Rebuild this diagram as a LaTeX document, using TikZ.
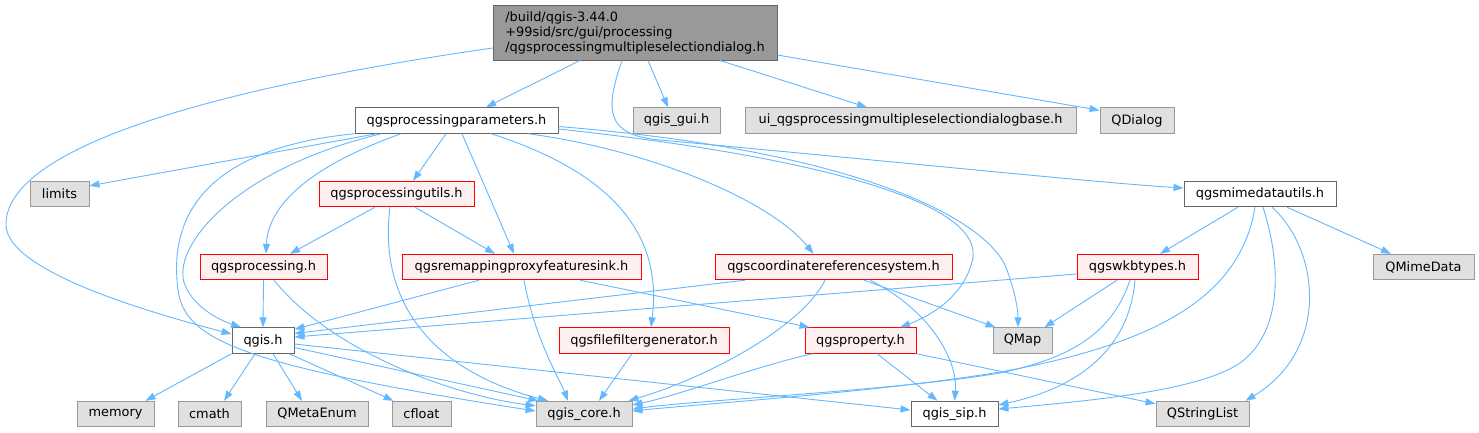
\documentclass[tikz,border=0pt]{standalone}
\usepackage{fontspec}
\setmainfont{DejaVu Sans}
\usetikzlibrary{arrows.meta}
\definecolor{edgec}{HTML}{63B8FF}
\definecolor{mainfill}{HTML}{999999}
\definecolor{maindraw}{HTML}{666666}
\definecolor{redfill}{HTML}{FFF0F0}
\definecolor{reddraw}{HTML}{FF0000}
\definecolor{grayfill}{HTML}{E0E0E0}
\definecolor{graydraw}{HTML}{999999}
\begin{document}
\begin{tikzpicture}[x=1pt,y=-1pt,
  box/.style={rectangle, inner sep=0pt, minimum height=25.5pt, font=\fontsize{12.9}{15}\selectfont, line width=0.9pt},
  mainbox/.style={box, fill=mainfill, draw=maindraw},
  wbox/.style={box, fill=white, draw=maindraw},
  rbox/.style={box, fill=redfill, draw=reddraw},
  gbox/.style={box, fill=grayfill, draw=graydraw},
  edge/.style={draw=edgec, line width=0.9pt, -{Triangle[length=10pt,width=7pt]}}
]
\useasboundingbox[fill=white] (0,0) rectangle (1479,432);

% row 0
\node[mainbox, minimum width=284pt, minimum height=55pt, align=left] (main) at (635,32.5)
  {/build/qgis-3.44.0\\+99sid/src/gui/processing\\/qgsprocessingmultipleselectiondialog.h};
% row 1
\node[wbox, minimum width=203pt] (params) at (456.5,120.5) {qgsprocessingparameters.h};
\node[gbox, minimum width=87pt] (gui) at (676.5,120.5) {qgis\_gui.h};
\node[gbox, minimum width=331pt] (ui) at (910.5,120.5) {ui\_qgsprocessingmultipleselectiondialogbase.h};
\node[gbox, minimum width=74pt] (qdialog) at (1137,120.5) {QDialog};
% row 2
\node[gbox, minimum width=59pt] (limits) at (59.5,194) {limits};
\node[rbox, minimum width=155pt] (utils) at (396.5,194) {qgsprocessingutils.h};
\node[wbox, minimum width=152pt] (mime) at (1260,194) {qgsmimedatautils.h};
% row 3
\node[rbox, minimum width=127pt] (processing) at (263.5,267) {qgsprocessing.h};
\node[rbox, minimum width=239pt] (remap) at (521.5,267) {qgsremappingproxyfeaturesink.h};
\node[rbox, minimum width=237pt] (crs) at (833.5,267) {qgscoordinatereferencesystem.h};
\node[rbox, minimum width=121pt] (wkb) at (1137.5,267) {qgswkbtypes.h};
\node[gbox, minimum width=101pt] (qmimedata) at (1423.5,267) {QMimeData};
% row 4
\node[wbox, minimum width=62pt] (qgis) at (263,340.5) {qgis.h};
\node[rbox, minimum width=170pt] (filefilter) at (644,340.5) {qgsfilefiltergenerator.h};
\node[rbox, minimum width=111pt] (property) at (860.5,340.5) {qgsproperty.h};
\node[gbox, minimum width=59pt] (qmap) at (1022.5,340.5) {QMap};
% row 5
\node[gbox, minimum width=77pt] (memory) at (115.5,414) {memory};
\node[gbox, minimum width=63pt] (cmath) at (209.5,414) {cmath};
\node[gbox, minimum width=102pt] (qmetaenum) at (317,414) {QMetaEnum};
\node[gbox, minimum width=59pt] (cfloat) at (421.5,414) {cfloat};
\node[gbox, minimum width=96pt] (core) at (584,414) {qgis\_core.h};
\node[wbox, minimum width=87pt] (sip) at (954.5,414) {qgis\_sip.h};
\node[gbox, minimum width=93pt] (qstringlist) at (1202.5,414) {QStringList};

% main edges
\draw[edge] ([yshift=-15.5pt]main.west) .. controls (200,90) and (5,150) .. (6,225)
  .. controls (7,270) and (140,310) .. ([yshift=6.5pt]qgis.west);
\draw[edge] ([xshift=-55pt]main.south) -- ([xshift=29.5pt]params.north);
\draw[edge] ([xshift=13pt]main.south) -- ([xshift=-8.5pt]gui.north);
\draw[edge] ([xshift=85pt]main.south) -- ([xshift=-43.5pt]ui.north);
\draw[edge] ([yshift=-22.5pt]main.east) -- ([yshift=-3pt]qdialog.north west);
\draw[edge] ([xshift=-13pt]main.south) .. controls (605,110) and (605,135) .. (660,140)
  .. controls (900,162) and (1100,183) .. ([yshift=6pt]mime.west);

% params edges
\draw[edge] ([xshift=-79.5pt]params.south) -- ([yshift=-5pt]limits.north east);
\draw[edge] ([xshift=-10.5pt]params.south) -- ([xshift=16.5pt]utils.north);
\draw[edge] ([xshift=5.5pt]params.south) -- ([xshift=-7.5pt]remap.north);
\draw[edge] ([xshift=-55.5pt]params.south) .. controls (300,170) and (268,210) .. ([xshift=2.5pt]processing.north);
\draw[edge] ([xshift=-75pt]params.south) .. controls (230,170) and (170,250) .. (185,285)
  .. controls (195,310) and (225,322) .. ([xshift=-22pt]qgis.north);
\draw[edge] (params.south west) .. controls (190,150) and (170,230) .. (178,290)
  .. controls (185,340) and (240,365) .. ([yshift=3pt]core.west);
\draw[edge] ([xshift=71.5pt]params.south) .. controls (650,150) and (770,200) .. ([xshift=-20pt]crs.north);
\draw[edge] ([xshift=34.5pt]params.south) .. controls (620,175) and (662,240) .. ([xshift=7pt]filefilter.north);
\draw[edge] ([yshift=-8.5pt]params.east) .. controls (800,155) and (990,200) .. (972,262)
  .. controls (962,300) and (925,318) .. ([xshift=39.5pt]property.north);
\draw[edge] ([yshift=-6pt]params.east) .. controls (850,150) and (980,215) .. (1005,265)
  .. controls (1015,290) and (1018,310) .. ([xshift=-4.5pt]qmap.north);

% utils edges
\draw[edge] ([xshift=-21.5pt]utils.south) -- ([xshift=26.5pt]processing.north);
\draw[edge] ([xshift=18.5pt]utils.south) -- ([xshift=-26.5pt]remap.north);
\draw[edge] ([xshift=-6.5pt]utils.south) .. controls (378,300) and (430,370) .. ([xshift=-36pt]core.north);

% processing edges
\draw[edge] (processing.south) -- (qgis.north);
\draw[edge] ([xshift=10.5pt]processing.south) .. controls (330,350) and (450,395) .. ([yshift=-5pt]core.north west);

% remap edges
\draw[edge] ([xshift=-42.5pt]remap.south) -- ([yshift=-2pt]qgis.north east);
\draw[edge] ([xshift=2.5pt]remap.south) .. controls (535,340) and (560,380) .. ([xshift=-16pt]core.north);
\draw[edge] ([xshift=58.5pt]remap.south) -- ([xshift=5pt]property.north west);

% crs edges
\draw[edge] ([xshift=-88.5pt]crs.south) -- ([yshift=7pt]qgis.east);
\draw[edge] ([xshift=-8.5pt]crs.south) .. controls (800,330) and (700,380) .. ([xshift=-4pt]core.north east);
\draw[edge] ([xshift=30.5pt]crs.south) -- ([xshift=3pt]qmap.north west);
\draw[edge] ([xshift=36.5pt]crs.south) .. controls (930,310) and (958,360) .. (sip.north);

% wkb edges
\draw[edge] ([yshift=-7pt]wkb.west) -- ([yshift=3.5pt]qgis.east);
\draw[edge] ([xshift=-20.5pt]wkb.south) -- ([xshift=-8pt]qmap.north east);
\draw[edge] ([xshift=-7.5pt]wkb.south) .. controls (1110,340) and (1060,360) .. (1000,373)
  .. controls (900,390) and (700,400) .. ([yshift=5pt]core.east);
\draw[edge] ([xshift=-2.5pt]wkb.south) .. controls (1130,340) and (1090,385) .. ([yshift=9pt]sip.east);

% mime edges
\draw[edge] ([xshift=-22pt]mime.south) -- ([xshift=22.5pt]wkb.north);
\draw[edge] ([xshift=27pt]mime.south) -- ([xshift=-32.5pt]qmimedata.north);
\draw[edge] ([xshift=-5pt]mime.south) .. controls (1240,300) and (1150,345) .. (1000,372)
  .. controls (880,392) and (700,404) .. ([yshift=3pt]core.east);
\draw[edge] ([xshift=3pt]mime.south) .. controls (1280,260) and (1285,330) .. (1240,363)
  .. controls (1200,390) and (1100,400) .. ([yshift=5pt]sip.east);
\draw[edge] ([xshift=12pt]mime.south) .. controls (1320,250) and (1330,350) .. ([xshift=-4pt]qstringlist.north east);

% property edges
\draw[edge] ([xshift=-47.5pt]property.south) .. controls (760,365) and (680,395) .. ([yshift=9pt]core.east);
\draw[edge] ([xshift=16.5pt]property.south) -- ([xshift=-17pt]sip.north);
\draw[edge] (property.south east) -- ([yshift=-3pt]qstringlist.north west);

% qgis edges
\draw[edge] (qgis.south west) -- ([xshift=30pt]memory.north);
\draw[edge] ([xshift=-8pt]qgis.south) -- ([xshift=14.5pt]cmath.north);
\draw[edge] ([xshift=10pt]qgis.south) -- ([xshift=-15pt]qmetaenum.north);
\draw[edge] ([xshift=26pt]qgis.south) -- ([xshift=2pt]cfloat.north west);
\draw[edge] ([yshift=-7pt]qgis.east) -- ([xshift=3pt]core.north west);
\draw[edge] ([yshift=-3.5pt]qgis.east) -- ([yshift=4pt]sip.west);

% filefilter edge
\draw[edge] ([xshift=-12pt]filefilter.south) -- ([xshift=15pt]core.north);
\end{tikzpicture}
\end{document}
